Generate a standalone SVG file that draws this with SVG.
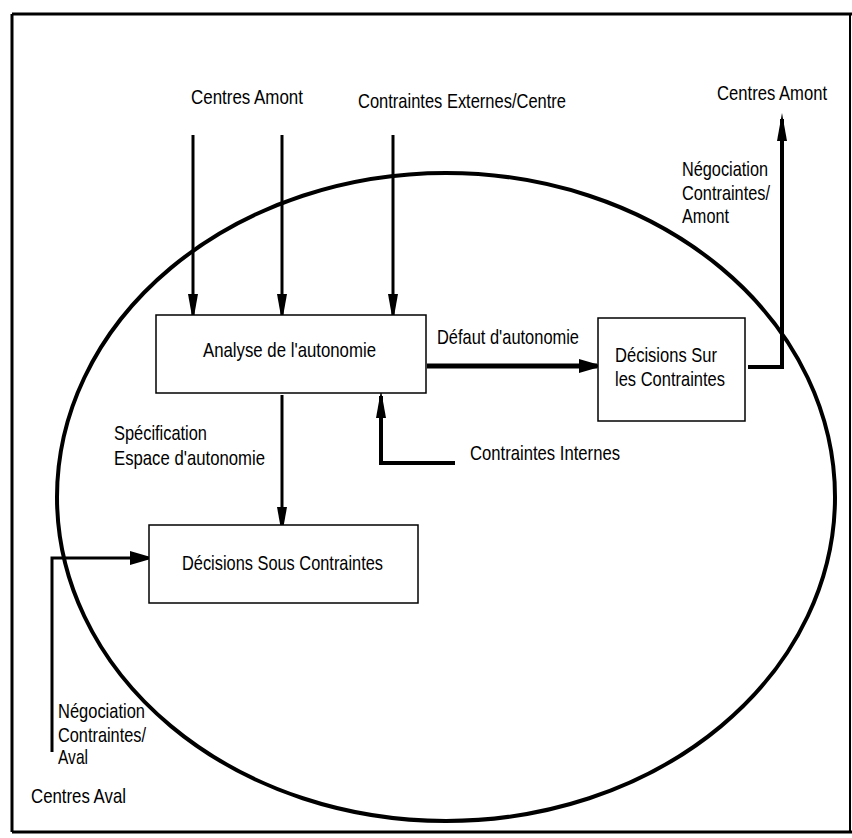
<svg xmlns="http://www.w3.org/2000/svg" width="852" height="838" viewBox="0 0 852 838">
<defs>
<style>
.t{font-family:"Liberation Sans Narrow","Liberation Sans",Arial,sans-serif;font-size:21px;fill:#000}
.box{fill:#fff;stroke:#000;stroke-width:1.5}
.c{fill:none;stroke:#000;stroke-linejoin:miter}
.w3{stroke-width:3}
.w4{stroke-width:4}
.w5{stroke-width:5}
</style>
<marker id="ah" markerUnits="userSpaceOnUse" markerWidth="28" markerHeight="10" refX="22" refY="5" orient="auto">
<path d="M0,0 L28,5 L0,10 Z" fill="#000"/>
</marker>
<marker id="ahb" markerUnits="userSpaceOnUse" markerWidth="24" markerHeight="14" refX="18" refY="7" orient="auto">
<path d="M0,0 L24,7 L0,14 Z" fill="#000"/>
</marker>
</defs>
<rect width="852" height="838" fill="#fff"/>
<g id="frame" fill="none" stroke="#000">
<path d="M12,14 H852" stroke-width="3"/>
<path d="M12,14 V832" stroke-width="3"/>
<path d="M12,832 H852" stroke-width="3"/>
<path d="M850,14 V832" stroke-width="2"/>
</g>
<g id="boundary">
<ellipse cx="446" cy="497" rx="389" ry="324" fill="none" stroke="#000" stroke-width="4"/>
</g>
<g id="connectors">
<path class="c w3" d="M193,135 V316" marker-end="url(#ah)"/>
<path class="c w3" d="M282,135 V316" marker-end="url(#ah)"/>
<path class="c w3" d="M393,135 V316" marker-end="url(#ah)"/>
<path class="c w3" d="M282,395 V529" marker-end="url(#ah)"/>
<path class="c w4" d="M455,463 H381 V396" marker-end="url(#ah)"/>
<path class="c w5" d="M427,366 H597" marker-end="url(#ahb)"/>
<path class="c w4" d="M748,367 H782 V119" marker-end="url(#ah)"/>
<path class="c w3" d="M52,752 V558 H148" marker-end="url(#ahb)"/>
</g>
<g id="analyse">
<rect class="box" x="156" y="315" width="270" height="78"/>
<text class="t" x="203" y="357" textLength="173" lengthAdjust="spacingAndGlyphs">Analyse de l'autonomie</text>
</g>
<g id="decisions-sur">
<rect class="box" x="598" y="318" width="147" height="103"/>
<text class="t" x="615" y="362" textLength="102" lengthAdjust="spacingAndGlyphs">Décisions Sur</text>
<text class="t" x="615" y="386" textLength="110" lengthAdjust="spacingAndGlyphs">les Contraintes</text>
</g>
<g id="decisions-sous">
<rect class="box" x="149" y="525" width="269" height="78"/>
<text class="t" x="182" y="570" textLength="201" lengthAdjust="spacingAndGlyphs">Décisions Sous Contraintes</text>
</g>
<g id="centres-amont-1">
<text class="t" x="191" y="104" textLength="112" lengthAdjust="spacingAndGlyphs">Centres Amont</text>
</g>
<g id="contraintes-externes">
<text class="t" x="358" y="108" textLength="208" lengthAdjust="spacingAndGlyphs">Contraintes Externes/Centre</text>
</g>
<g id="centres-amont-2">
<text class="t" transform="translate(717,100) scale(0.786,1)" x="0" y="0" textLength="140" lengthAdjust="spacingAndGlyphs">Centres Amont</text>
</g>
<g id="labels">
<text class="t" x="682" y="176" textLength="86" lengthAdjust="spacingAndGlyphs">Négociation</text>
<text class="t" x="682" y="200" textLength="88" lengthAdjust="spacingAndGlyphs">Contraintes/</text>
<text class="t" x="682" y="223" textLength="47" lengthAdjust="spacingAndGlyphs">Amont</text>
<text class="t" x="437" y="344" textLength="142" lengthAdjust="spacingAndGlyphs">Défaut d'autonomie</text>
<text class="t" x="114" y="440" textLength="93" lengthAdjust="spacingAndGlyphs">Spécification</text>
<text class="t" x="114" y="465" textLength="151" lengthAdjust="spacingAndGlyphs">Espace d'autonomie</text>
<text class="t" x="470" y="460" textLength="150" lengthAdjust="spacingAndGlyphs">Contraintes Internes</text>
<text class="t" x="58" y="718" textLength="87" lengthAdjust="spacingAndGlyphs">Négociation</text>
<text class="t" x="58" y="742" textLength="88" lengthAdjust="spacingAndGlyphs">Contraintes/</text>
<text class="t" x="58" y="764" textLength="30" lengthAdjust="spacingAndGlyphs">Aval</text>
</g>
<g id="centres-aval">
<text class="t" x="31" y="803" textLength="95" lengthAdjust="spacingAndGlyphs">Centres Aval</text>
</g>
</svg>
